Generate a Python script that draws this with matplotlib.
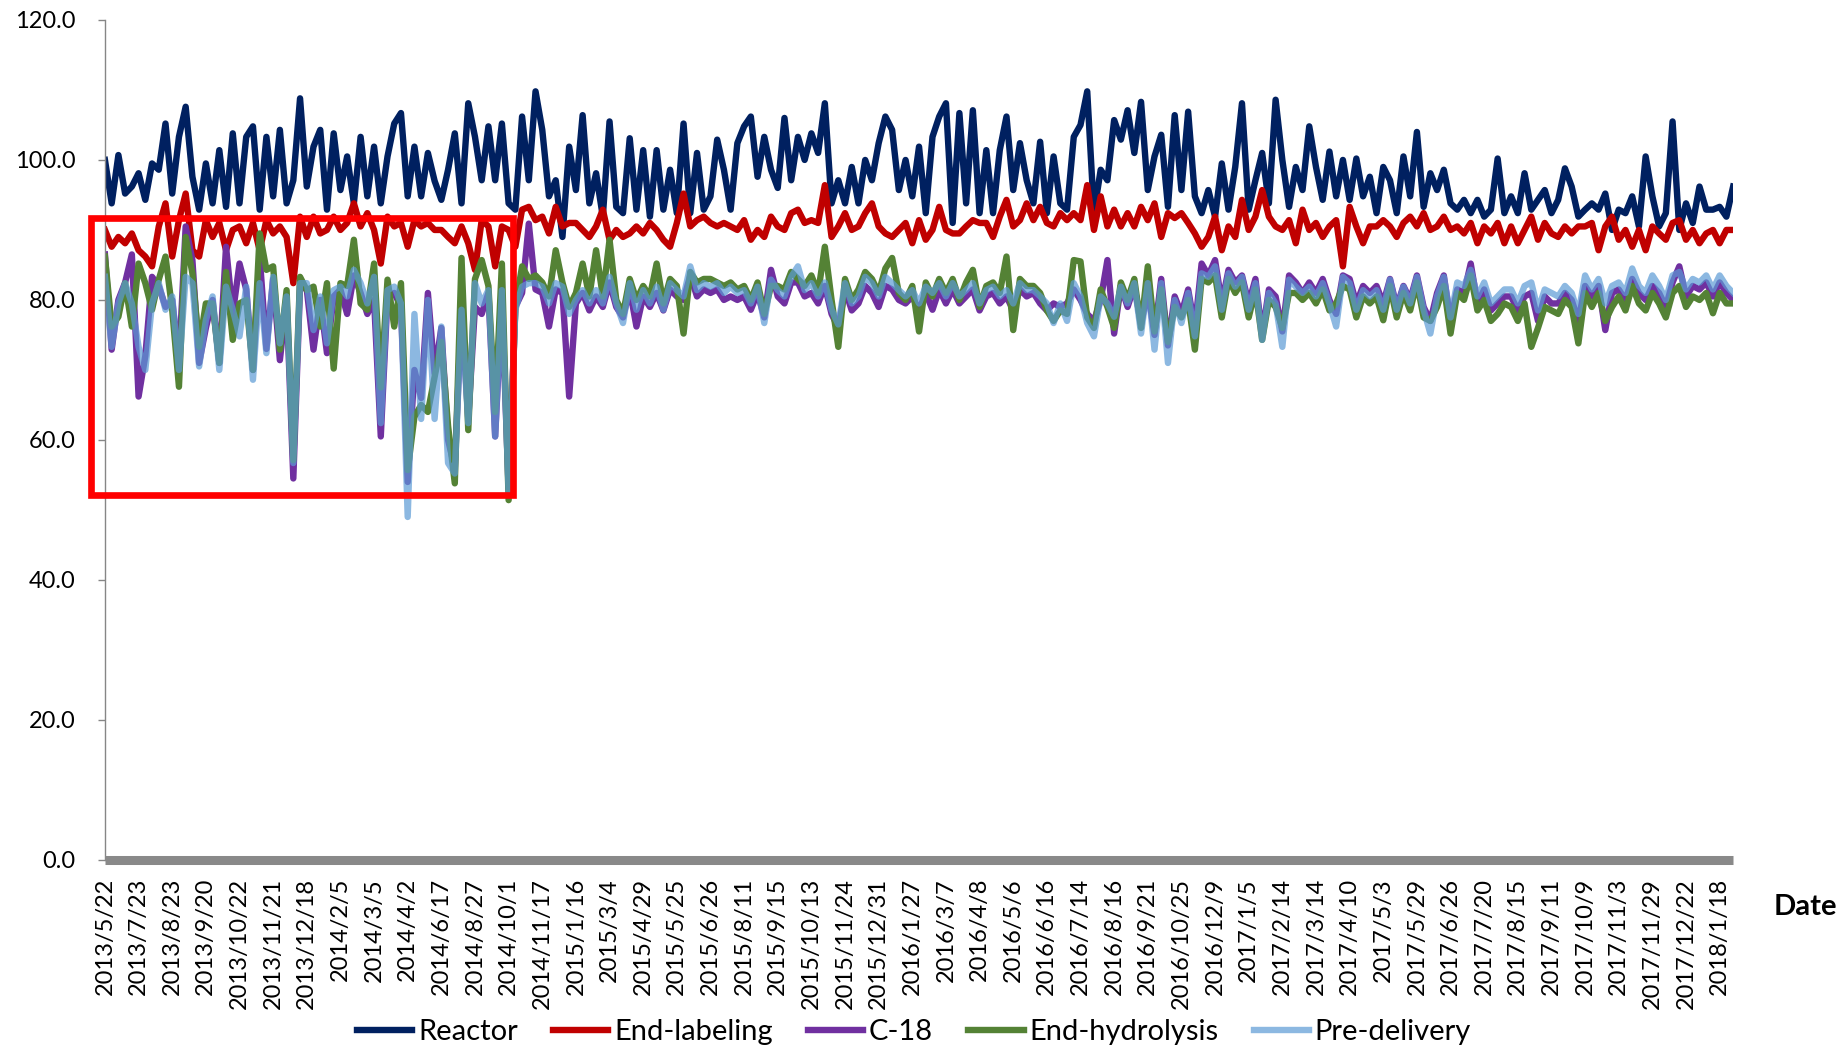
import matplotlib
matplotlib.use("Agg")
import matplotlib.pyplot as plt
from matplotlib.patches import Rectangle
from matplotlib.transforms import blended_transform_factory

plt.rcParams['font.family'] = ['Lato', 'DejaVu Sans']

# category labels (one label every 5 runs)
tick_labels = ["2013/5/22", "2013/7/23", "2013/8/23", "2013/9/20", "2013/10/22", "2013/11/21",
               "2013/12/18", "2014/2/5", "2014/3/5", "2014/4/2", "2014/6/17", "2014/8/27",
               "2014/10/1", "2014/11/17", "2015/1/16", "2015/3/4", "2015/4/29", "2015/5/25",
               "2015/6/26", "2015/8/11", "2015/9/15", "2015/10/13", "2015/11/24", "2015/12/31",
               "2016/1/27", "2016/3/7", "2016/4/8", "2016/5/6", "2016/6/16", "2016/7/14",
               "2016/8/16", "2016/9/21", "2016/10/25", "2016/12/9", "2017/1/5", "2017/2/14",
               "2017/3/14", "2017/4/10", "2017/5/3", "2017/5/29", "2017/6/26", "2017/7/20",
               "2017/8/15", "2017/9/11", "2017/10/9", "2017/11/3", "2017/11/29", "2017/12/22",
               "2018/1/18"]
label_step = 5

reactor = [
    100.0, 93.8, 100.7, 95.2, 96.2, 98.1, 94.3, 99.5, 98.6, 105.2,
    95.2, 103.3, 107.6, 97.6, 92.9, 99.5, 93.8, 101.4, 93.3, 103.8,
    93.8, 103.3, 104.8, 92.9, 103.3, 94.8, 104.3, 93.8, 97.1, 108.8,
    96.2, 101.9, 104.3, 92.9, 103.8, 95.7, 100.5, 93.8, 103.3, 94.8,
    101.9, 93.8, 100.5, 105.2, 106.7, 94.8, 101.9, 94.8, 101.0, 97.0,
    94.3, 98.6, 103.8, 93.8, 108.1, 103.3, 97.1, 104.8, 97.1, 105.2,
    93.8, 92.9, 106.2, 97.1, 109.8, 104.3, 94.8, 97.1, 89.0, 101.9,
    95.7, 106.4, 93.8, 98.1, 91.9, 105.5, 93.3, 92.4, 103.1, 92.9,
    101.4, 91.9, 101.4, 92.9, 98.6, 92.4, 105.2, 92.4, 101.0, 92.9,
    94.8, 102.9, 98.6, 92.9, 102.4, 104.8, 106.2, 97.6, 103.3, 98.6,
    96.0, 106.0, 97.1, 103.3, 100.0, 103.8, 101.0, 108.1, 93.8, 97.1,
    93.8, 99.0, 93.8, 100.0, 97.1, 102.4, 106.2, 104.3, 95.7, 100.0,
    94.8, 101.9, 92.4, 103.3, 106.2, 108.1, 91.0, 106.7, 93.8, 107.1,
    92.4, 101.4, 92.4, 101.4, 106.2, 95.7, 102.4, 97.1, 93.8, 102.6,
    92.4, 100.5, 93.8, 92.9, 103.3, 105.0, 109.8, 92.4, 98.6, 97.1,
    105.7, 102.9, 107.1, 101.0, 108.3, 95.7, 100.5, 103.6, 93.3, 106.4,
    95.7, 106.9, 94.8, 92.4, 95.7, 91.9, 99.5, 92.9, 99.0, 108.1,
    92.9, 97.1, 101.0, 93.8, 108.6, 100.0, 93.3, 99.0, 95.7, 104.8,
    99.0, 94.3, 101.2, 94.8, 100.0, 94.3, 100.2, 94.8, 97.6, 92.4,
    99.0, 97.1, 92.4, 100.5, 94.8, 104.0, 93.3, 98.1, 95.7, 98.6,
    93.8, 92.9, 94.3, 92.4, 94.3, 91.9, 92.9, 100.2, 92.4, 94.8,
    92.4, 98.1, 92.9, 94.3, 95.7, 92.4, 94.3, 98.8, 96.2, 91.9,
    92.9, 93.8, 92.9, 95.2, 90.0, 92.9, 92.4, 94.8, 90.5, 100.5,
    94.8, 90.5, 92.4, 105.5, 90.0, 93.8, 91.0, 96.2, 92.9, 92.9,
    93.3, 91.9, 96.2]

end_labeling = [
    90.0, 87.6, 89.0, 88.1, 89.5, 87.1, 86.2, 84.8, 90.5, 93.8,
    86.2, 91.4, 95.2, 87.1, 86.2, 91.4, 89.0, 91.0, 87.1, 90.0,
    90.5, 88.1, 91.0, 87.1, 91.4, 89.5, 90.5, 89.0, 82.4, 91.9,
    89.0, 91.9, 89.5, 90.0, 91.9, 90.0, 91.0, 93.8, 90.5, 92.4,
    90.0, 85.2, 91.9, 90.5, 91.0, 87.6, 91.4, 90.5, 91.0, 90.0,
    90.0, 89.0, 88.1, 90.5, 88.1, 84.3, 91.4, 90.5, 84.8, 90.5,
    90.0, 87.6, 92.9, 93.3, 91.4, 91.9, 89.5, 93.3, 90.5, 91.0,
    91.0, 90.0, 89.0, 90.5, 92.9, 88.6, 90.0, 89.0, 89.5, 90.5,
    89.5, 91.0, 90.0, 88.6, 87.6, 91.0, 95.2, 90.5, 91.4, 91.9,
    91.0, 90.5, 91.0, 90.5, 90.0, 91.4, 88.6, 90.0, 89.0, 91.9,
    90.5, 90.0, 92.4, 92.9, 91.0, 91.4, 91.0, 96.4, 89.0, 90.5,
    92.4, 90.0, 90.5, 92.4, 93.8, 90.5, 89.5, 89.0, 90.0, 91.0,
    88.1, 91.4, 88.6, 90.0, 93.3, 90.0, 89.5, 89.5, 90.5, 91.4,
    91.0, 91.0, 89.0, 91.9, 94.3, 90.5, 91.4, 93.8, 91.4, 93.3,
    91.0, 90.5, 92.4, 91.4, 92.4, 91.4, 96.4, 90.0, 94.8, 90.5,
    92.9, 90.5, 92.4, 90.5, 93.3, 91.4, 93.8, 89.0, 92.4, 91.7,
    92.4, 91.0, 89.5, 87.6, 89.0, 91.9, 87.1, 90.5, 89.0, 94.3,
    90.0, 91.9, 95.7, 91.9, 90.5, 90.0, 91.4, 88.1, 92.9, 90.0,
    91.0, 89.0, 90.5, 91.4, 84.8, 93.3, 90.5, 88.1, 90.5, 90.5,
    91.4, 90.5, 89.0, 91.0, 91.9, 90.5, 92.4, 90.0, 90.5, 91.9,
    90.0, 90.5, 89.5, 91.0, 88.1, 90.5, 89.5, 91.0, 88.1, 90.5,
    88.1, 90.0, 91.9, 88.6, 91.0, 89.5, 89.0, 90.5, 89.5, 90.5,
    90.5, 91.0, 87.1, 90.5, 91.9, 88.6, 90.0, 87.6, 90.0, 87.1,
    90.5, 89.5, 88.6, 91.0, 91.4, 88.6, 90.0, 88.1, 89.5, 90.0,
    88.1, 90.0, 90.0]

c18 = [
    86.5, 72.9, 80.0, 82.5, 86.5, 66.2, 72.0, 83.3, 82.0, 79.0,
    80.0, 71.0, 90.5, 85.7, 71.0, 76.0, 80.0, 71.0, 87.6, 78.0,
    85.2, 81.5, 70.0, 86.2, 73.0, 83.0, 71.4, 80.0, 54.5, 82.0,
    81.5, 72.9, 80.0, 72.4, 80.5, 81.5, 78.0, 83.5, 81.0, 78.0,
    80.0, 60.5, 80.5, 81.0, 79.0, 54.0, 70.0, 66.0, 81.0, 69.5,
    76.0, 60.0, 56.0, 79.0, 63.0, 79.0, 78.0, 81.0, 60.5, 80.0,
    53.0, 79.0, 81.0, 90.9, 81.5, 81.0, 76.2, 81.5, 81.0, 66.2,
    79.5, 81.0, 78.5, 80.5, 79.0, 82.5, 79.0, 77.5, 81.5, 76.2,
    80.5, 79.0, 81.0, 78.5, 81.5, 80.5, 80.0, 83.5, 80.5, 81.5,
    81.0, 81.5, 80.0, 80.5, 80.0, 80.5, 78.6, 81.0, 77.5, 84.3,
    80.5, 79.5, 82.5, 82.5, 80.5, 81.0, 79.5, 82.0, 78.0, 76.0,
    81.5, 78.5, 79.5, 82.0, 81.0, 79.0, 82.0, 81.5, 80.0, 79.5,
    80.5, 78.5, 81.0, 78.6, 81.5, 79.5, 81.5, 79.5, 80.5, 81.5,
    78.5, 80.5, 81.0, 79.5, 80.5, 78.5, 81.5, 80.5, 81.0, 79.5,
    78.5, 79.5, 79.0, 79.5, 81.5, 80.0, 78.0, 77.0, 80.0, 85.7,
    75.2, 82.0, 79.0, 82.0, 76.5, 81.5, 75.0, 83.0, 73.5, 80.5,
    78.0, 81.5, 76.0, 85.2, 83.5, 85.7, 79.5, 84.3, 82.5, 83.5,
    79.5, 83.0, 75.0, 81.5, 80.5, 75.5, 83.5, 82.5, 81.0, 82.5,
    81.0, 83.0, 80.0, 78.0, 83.5, 83.0, 79.5, 82.0, 81.0, 82.0,
    79.5, 83.0, 79.0, 82.0, 80.0, 83.5, 79.0, 77.0, 81.0, 83.5,
    77.0, 81.5, 81.0, 85.2, 79.5, 81.5, 78.5, 79.5, 80.5, 80.5,
    78.5, 80.5, 81.0, 77.0, 80.5, 79.5, 79.5, 81.0, 80.0, 77.0,
    82.0, 80.5, 82.0, 75.7, 81.0, 81.5, 80.0, 83.0, 81.0, 80.0,
    82.0, 81.0, 79.0, 82.5, 84.8, 80.5, 82.0, 81.5, 82.5, 80.5,
    82.5, 81.0, 80.0]

end_hydrolysis = [
    86.2, 76.2, 77.6, 82.4, 76.2, 85.2, 82.4, 78.6, 82.9, 86.2,
    78.6, 67.6, 89.0, 83.8, 73.3, 79.5, 79.5, 71.0, 84.0, 74.3,
    79.5, 80.0, 70.0, 89.5, 84.3, 84.8, 72.9, 81.4, 57.1, 83.3,
    81.4, 81.9, 76.2, 82.4, 70.2, 82.4, 82.0, 88.6, 79.5, 78.6,
    85.2, 67.5, 82.9, 76.2, 82.4, 55.7, 63.3, 65.0, 64.0, 69.0,
    74.0, 62.0, 53.8, 86.0, 61.4, 83.0, 85.7, 82.0, 64.0, 85.2,
    51.4, 79.0, 84.8, 83.0, 83.5, 82.5, 80.5, 87.1, 82.5, 79.0,
    81.0, 85.2, 80.5, 87.1, 80.5, 88.6, 80.0, 78.0, 83.0, 80.0,
    82.0, 80.5, 85.2, 79.5, 83.0, 82.0, 75.2, 84.0, 82.5, 83.0,
    83.0, 82.5, 82.0, 82.5, 81.5, 82.0, 80.0, 82.5, 78.0, 82.0,
    82.0, 81.5, 84.0, 83.0, 82.0, 83.5, 81.0, 87.6, 80.0, 73.3,
    83.0, 80.0, 81.5, 84.0, 83.0, 81.0, 84.5, 86.0, 81.0, 80.0,
    82.0, 75.5, 82.5, 80.5, 83.0, 81.0, 83.0, 80.0, 82.5, 84.3,
    79.0, 82.0, 82.5, 81.0, 86.2, 75.7, 83.0, 82.0, 82.0, 81.0,
    78.5, 77.0, 78.5, 78.0, 85.7, 85.5, 77.5, 76.0, 81.5, 79.0,
    76.0, 82.5, 80.0, 83.0, 76.0, 84.8, 75.5, 81.5, 74.0, 79.0,
    77.5, 80.0, 72.9, 83.0, 82.5, 83.5, 77.5, 83.0, 81.0, 82.5,
    77.5, 81.5, 74.3, 80.0, 79.0, 76.0, 81.0, 81.0, 80.0, 81.0,
    79.5, 81.5, 78.5, 79.5, 82.0, 81.5, 77.5, 80.5, 79.5, 80.5,
    77.1, 82.0, 77.5, 81.0, 78.5, 82.5, 77.5, 77.0, 79.0, 82.0,
    75.2, 81.0, 80.0, 83.5, 78.5, 80.0, 77.0, 78.0, 79.5, 79.0,
    77.0, 79.5, 73.3, 76.0, 79.0, 78.5, 78.0, 80.0, 79.0, 73.8,
    81.0, 79.0, 81.0, 77.0, 79.0, 80.5, 78.5, 82.0, 79.5, 78.5,
    81.0, 79.5, 77.5, 81.0, 82.0, 79.0, 80.5, 80.0, 81.0, 78.1,
    81.0, 79.5, 79.5]

pre_delivery = [
    83.3, 73.3, 79.5, 82.4, 79.5, 73.3, 70.0, 79.5, 82.4, 78.6,
    80.5, 70.0, 83.3, 82.4, 70.5, 77.1, 80.5, 70.0, 81.9, 78.6,
    74.8, 81.9, 68.6, 82.4, 72.4, 83.3, 73.8, 80.5, 56.7, 82.4,
    82.4, 75.7, 80.5, 73.8, 81.4, 81.9, 80.5, 84.3, 82.4, 79.5,
    83.3, 62.4, 81.4, 81.9, 79.5, 49.0, 78.0, 63.0, 80.0, 63.0,
    76.2, 56.7, 55.2, 78.6, 62.4, 82.4, 79.5, 81.4, 60.5, 81.4,
    52.4, 78.6, 81.9, 82.4, 82.4, 81.9, 79.5, 82.4, 81.9, 78.0,
    80.0, 81.4, 79.5, 81.4, 79.5, 83.3, 79.5, 76.7, 82.4, 78.6,
    81.4, 79.5, 81.9, 78.6, 82.4, 81.4, 80.5, 84.8, 81.4, 82.4,
    81.9, 82.4, 81.0, 81.9, 81.0, 81.4, 79.5, 81.9, 76.7, 82.9,
    81.4, 80.5, 83.3, 84.8, 81.4, 82.4, 80.5, 82.5, 78.6, 76.5,
    82.4, 79.5, 80.5, 83.3, 82.4, 80.5, 83.3, 82.4, 81.4, 80.5,
    81.4, 79.5, 81.9, 81.0, 82.4, 80.5, 82.4, 80.5, 81.4, 82.4,
    79.5, 81.4, 81.9, 80.5, 81.4, 79.5, 82.4, 81.4, 81.4, 80.5,
    79.5, 76.7, 79.5, 77.0, 82.4, 80.5, 76.7, 74.8, 80.5, 79.5,
    77.6, 81.9, 79.5, 82.4, 75.2, 82.4, 72.9, 82.4, 71.0, 80.0,
    76.7, 81.0, 74.8, 83.8, 83.3, 84.8, 78.6, 83.8, 81.9, 83.3,
    78.6, 82.4, 74.3, 81.0, 79.5, 73.3, 82.9, 81.9, 81.0, 81.9,
    80.5, 82.4, 79.5, 76.2, 83.3, 82.4, 78.6, 81.4, 80.5, 81.4,
    78.6, 82.9, 78.6, 81.9, 79.5, 83.3, 78.6, 75.2, 80.5, 83.3,
    77.5, 82.5, 82.0, 84.3, 80.5, 82.5, 79.5, 80.5, 81.5, 81.5,
    79.5, 82.0, 82.5, 78.5, 81.5, 81.0, 80.5, 82.0, 81.0, 78.0,
    83.5, 81.5, 83.0, 79.5, 82.0, 82.5, 81.0, 84.5, 82.0, 81.0,
    83.5, 82.0, 80.0, 83.5, 84.0, 81.5, 83.0, 82.5, 83.5, 81.5,
    83.5, 82.0, 81.0]

series = [
    ("Reactor", reactor, "#002060", 1.0),
    ("End-labeling", end_labeling, "#C00000", 1.0),
    ("C-18", c18, "#7030A0", 1.0),
    ("End-hydrolysis", end_hydrolysis, "#548235", 1.0),
    ("Pre-delivery", pre_delivery, "#5B9BD5", 0.7),
]

fig = plt.figure(figsize=(18.41, 10.5), dpi=100)
ax = fig.add_axes([0.0570, 0.1810, 0.8844, 0.8000])

x = list(range(len(reactor)))
for name, vals, col, a in series:
    ax.plot(x, vals, color=col, lw=4.6, alpha=a, label=name)

ax.set_xlim(0, len(reactor) - 1)
ax.set_ylim(0, 120)
ax.set_yticks(range(0, 121, 20))
ax.set_yticklabels([f"{v:.1f}" for v in range(0, 121, 20)])
ax.set_xticks([i * label_step for i in range(len(tick_labels))])
ax.set_xticklabels(tick_labels, rotation=90)

ax.tick_params(axis='y', labelsize=17, length=5, width=1, color='#868686', pad=16)
ax.tick_params(axis='x', labelsize=17, length=0, pad=13)

for s in ['top', 'right']:
    ax.spines[s].set_visible(False)
ax.spines['left'].set_color('#868686')
ax.spines['left'].set_linewidth(1)
# the dense category ticks show up as a thick grey bar in the original
ax.spines['bottom'].set_color('#898989')
ax.spines['bottom'].set_linewidth(6.5)
ax.spines['bottom'].set_capstyle('butt')

# red box highlighting the unstable early period
trans = blended_transform_factory(ax.transAxes, ax.transData)
box = Rectangle((-0.0086, 52.1), 0.2592, 91.74 - 52.1, transform=trans,
                fill=False, edgecolor='#FF0000', lw=4.8, clip_on=False, zorder=10)
ax.add_patch(box)

fig.text(0.9805, 0.1362, "Date", fontsize=21, fontweight='bold', ha='center', va='center')

fig.legend(loc='center', bbox_to_anchor=(0.4965, 0.017), ncol=5, frameon=False,
           fontsize=21, handlelength=1.9, handletextpad=0.2, columnspacing=1.2)

fig.savefig("out.png", dpi=100)
